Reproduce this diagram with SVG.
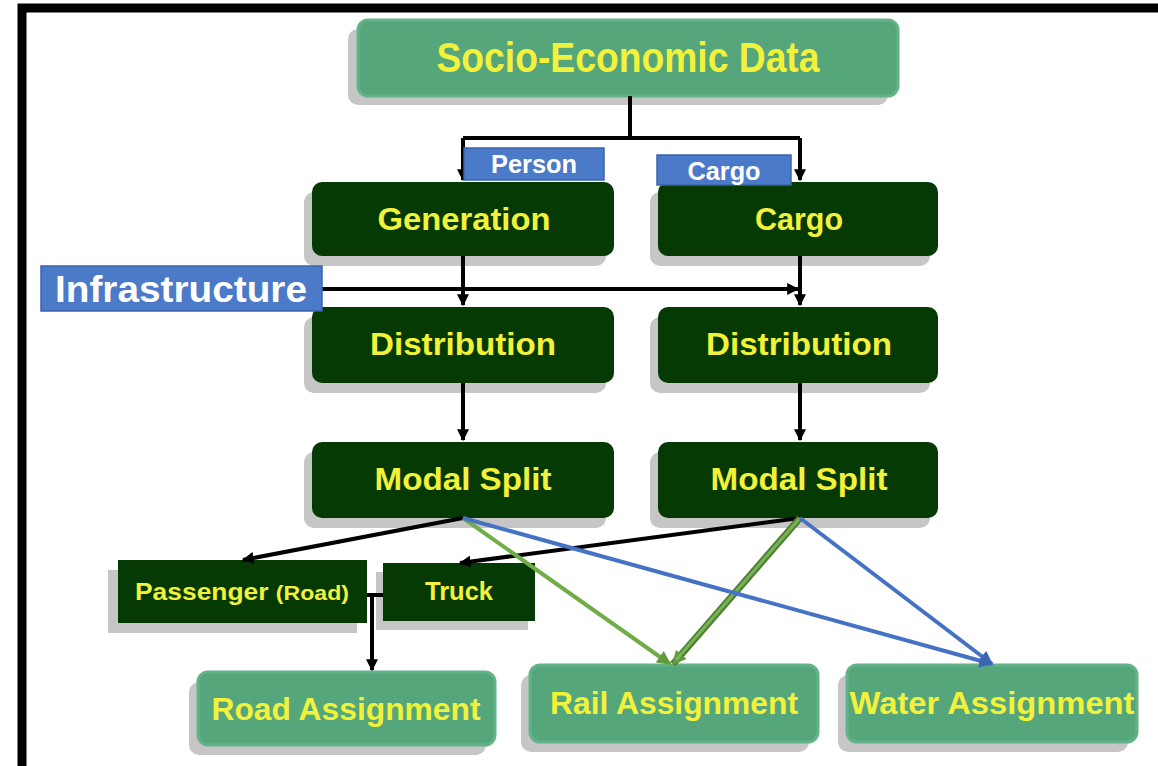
<svg xmlns="http://www.w3.org/2000/svg" width="1158" height="766" viewBox="0 0 1158 766">
<defs>
<style>
.shadow{fill:#c6c6c6}
.light{fill:#56a67b;stroke:#63b389;stroke-width:3}
.dark{fill:#053a05}
.blue{fill:#4a7ac8;stroke:#3a64ad;stroke-width:1.5}
.ty{font-family:"Liberation Sans",Arial,sans-serif;font-weight:bold;fill:#f2f23a;text-anchor:middle}
.tw{font-family:"Liberation Sans",Arial,sans-serif;font-weight:bold;fill:#ffffff;text-anchor:middle}
.k{stroke:#000;stroke-width:4;fill:none}
.g{stroke:#70ad47;stroke-width:4;fill:none}
.b{stroke:#4472c4;stroke-width:4;fill:none}
</style>
<marker id="ak" viewBox="0 0 10 10" refX="9" refY="5" markerWidth="12" markerHeight="12" markerUnits="userSpaceOnUse" orient="auto"><path d="M0,0 L10,5 L0,10 z" fill="#000"/></marker>
<marker id="ag" viewBox="0 0 10 10" refX="9" refY="5" markerWidth="14" markerHeight="14" markerUnits="userSpaceOnUse" orient="auto"><path d="M0,0 L10,5 L0,10 z" fill="#5f9a3c"/></marker>
<marker id="ab" viewBox="0 0 10 10" refX="9" refY="5" markerWidth="14" markerHeight="14" markerUnits="userSpaceOnUse" orient="auto"><path d="M0,0 L10,5 L0,10 z" fill="#3c64b0"/></marker>
</defs>
<rect width="1158" height="766" fill="#ffffff"/>
<path d="M22,766 V8 H1158" fill="none" stroke="#000" stroke-width="9"/>

<g id="socio">
<rect class="shadow" x="348" y="29" width="540" height="76" rx="10"/>
<rect class="light" x="358" y="20" width="540" height="76" rx="10"/>
<text class="ty" x="628" y="72" font-size="42" textLength="383" lengthAdjust="spacingAndGlyphs">Socio-Economic Data</text>
</g>

<g id="generation">
<rect class="shadow" x="304" y="192" width="302" height="74" rx="10"/>
<rect class="dark" x="312" y="182" width="302" height="74" rx="10"/>
<text class="ty" x="464" y="230" font-size="32" textLength="173" lengthAdjust="spacingAndGlyphs">Generation</text>
</g>
<g id="cargo">
<rect class="shadow" x="650" y="192" width="280" height="74" rx="10"/>
<rect class="dark" x="658" y="182" width="280" height="74" rx="10"/>
<text class="ty" x="799" y="230" font-size="32" textLength="88" lengthAdjust="spacingAndGlyphs">Cargo</text>
</g>

<g id="distribution-person">
<rect class="shadow" x="304" y="317" width="302" height="76" rx="10"/>
<rect class="dark" x="312" y="307" width="302" height="76" rx="10"/>
<text class="ty" x="463" y="355" font-size="32" textLength="186" lengthAdjust="spacingAndGlyphs">Distribution</text>
</g>
<g id="distribution-cargo">
<rect class="shadow" x="650" y="317" width="280" height="76" rx="10"/>
<rect class="dark" x="658" y="307" width="280" height="76" rx="10"/>
<text class="ty" x="799" y="355" font-size="32" textLength="186" lengthAdjust="spacingAndGlyphs">Distribution</text>
</g>

<g id="modal-person">
<rect class="shadow" x="304" y="452" width="302" height="76" rx="10"/>
<rect class="dark" x="312" y="442" width="302" height="76" rx="10"/>
<text class="ty" x="463" y="490" font-size="32" textLength="177" lengthAdjust="spacingAndGlyphs">Modal Split</text>
</g>
<g id="modal-cargo">
<rect class="shadow" x="650" y="452" width="280" height="76" rx="10"/>
<rect class="dark" x="658" y="442" width="280" height="76" rx="10"/>
<text class="ty" x="799" y="490" font-size="32" textLength="177" lengthAdjust="spacingAndGlyphs">Modal Split</text>
</g>

<g id="passenger">
<rect class="shadow" x="108" y="570" width="249" height="63"/>
<rect class="dark" x="118" y="560" width="249" height="63"/>
<text class="ty" x="242" y="600" font-size="24" textLength="214" lengthAdjust="spacingAndGlyphs">Passenger <tspan font-size="21">(Road)</tspan></text>
</g>
<g id="truck">
<rect class="shadow" x="376" y="572" width="152" height="58"/>
<rect class="dark" x="383" y="563" width="152" height="58"/>
<text class="ty" x="459" y="600" font-size="26" textLength="68" lengthAdjust="spacingAndGlyphs">Truck</text>
</g>

<g id="road-assignment">
<rect class="shadow" x="189" y="682" width="297" height="73" rx="10"/>
<rect class="light" x="198" y="672" width="297" height="73" rx="10"/>
<text class="ty" x="346" y="720" font-size="32" textLength="269" lengthAdjust="spacingAndGlyphs">Road Assignment</text>
</g>
<g id="rail-assignment">
<rect class="shadow" x="521" y="675" width="288" height="77" rx="10"/>
<rect class="light" x="530" y="665" width="288" height="77" rx="10"/>
<text class="ty" x="674" y="714" font-size="32" textLength="248" lengthAdjust="spacingAndGlyphs">Rail Assignment</text>
</g>
<g id="water-assignment">
<rect class="shadow" x="838" y="675" width="290" height="77" rx="10"/>
<rect class="light" x="847" y="665" width="290" height="77" rx="10"/>
<text class="ty" x="992" y="714" font-size="32" textLength="285" lengthAdjust="spacingAndGlyphs">Water Assignment</text>
</g>

<g id="connectors">
<path class="k" d="M630,96 V138 M463,138 H800"/>
<path class="k" d="M463,138 V180" marker-end="url(#ak)"/>
<path class="k" d="M800,138 V180" marker-end="url(#ak)"/>
<path class="k" d="M463,256 V305" marker-end="url(#ak)"/>
<path class="k" d="M800,256 V305" marker-end="url(#ak)"/>
<path class="k" d="M322,289 H798" marker-end="url(#ak)"/>
<path class="k" d="M463,383 V440" marker-end="url(#ak)"/>
<path class="k" d="M800,383 V440" marker-end="url(#ak)"/>
<path class="k" d="M463,518 L243,560" marker-end="url(#ak)"/>
<path class="k" d="M800,518 L460,563" marker-end="url(#ak)"/>
<path class="g" d="M463,518 L670,664" marker-end="url(#ag)"/>
<path d="M800,518 L673,664" fill="none" stroke="#4f7f35" stroke-width="7" marker-end="url(#ag)"/>
<path d="M800,518 L676,660" fill="none" stroke="#78b455" stroke-width="3"/>
<path class="b" d="M463,518 L992,664" marker-end="url(#ab)"/>
<path class="b" d="M800,518 L992,664" marker-end="url(#ab)"/>
<path class="k" d="M367,595 H383 M372,595 V670" marker-end="url(#ak)"/>
</g>

<g id="person-label">
<rect class="blue" x="464" y="148" width="140" height="32"/>
<text class="tw" x="534" y="173" font-size="25" textLength="86" lengthAdjust="spacingAndGlyphs">Person</text>
</g>
<g id="cargo-label">
<rect class="blue" x="657" y="155" width="134" height="30"/>
<text class="tw" x="724" y="180" font-size="25" textLength="73" lengthAdjust="spacingAndGlyphs">Cargo</text>
</g>
<g id="infrastructure">
<rect class="blue" x="41" y="266" width="281" height="45"/>
<text class="tw" x="181" y="302" font-size="36" textLength="252" lengthAdjust="spacingAndGlyphs">Infrastructure</text>
</g>
</svg>
